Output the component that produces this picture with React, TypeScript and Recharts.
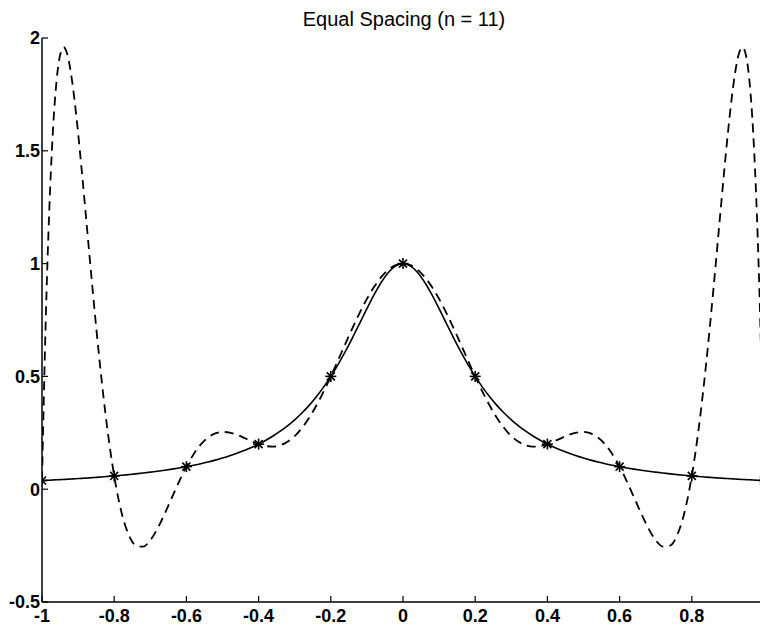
import { ComposedChart, Line, Scatter, XAxis, YAxis } from "recharts";

// sample positions along x (denser near the ends where the dashed curve swings)
const xValues = [
  -1, -0.99, -0.98, -0.97, -0.96, -0.95, -0.94, -0.93, -0.92, -0.91, -0.9,
  -0.89, -0.88, -0.87, -0.86, -0.85, -0.84, -0.83, -0.82, -0.81, -0.8,
  -0.78, -0.76, -0.74, -0.72, -0.7, -0.68, -0.66, -0.64, -0.62, -0.6,
  -0.58, -0.56, -0.54, -0.52, -0.5, -0.48, -0.46, -0.44, -0.42,
  -0.4, -0.38, -0.36, -0.34, -0.32, -0.3, -0.28, -0.26, -0.24, -0.22,
  -0.2, -0.18, -0.16, -0.14, -0.12, -0.1, -0.08, -0.06, -0.04, -0.02,
  0,
  0.02, 0.04, 0.06, 0.08, 0.1, 0.12, 0.14, 0.16, 0.18, 0.2,
  0.22, 0.24, 0.26, 0.28, 0.3, 0.32, 0.34, 0.36, 0.38, 0.4,
  0.42, 0.44, 0.46, 0.48, 0.5, 0.52, 0.54, 0.56, 0.58,
  0.6, 0.62, 0.64, 0.66, 0.68, 0.7, 0.72, 0.74, 0.76, 0.78,
  0.8, 0.81, 0.82, 0.83, 0.84, 0.85, 0.86, 0.87, 0.88, 0.89, 0.9,
  0.91, 0.92, 0.93, 0.94, 0.95, 0.96, 0.97, 0.98, 0.99, 1,
];

// dashed curve (polynomial through the 11 points)
const interpValues = [
  0.0385, 0.7261, 1.2303, 1.581, 1.8044, 1.9236, 1.959, 1.928, 1.8459, 1.7257, 1.5787,
  1.4143, 1.2402, 1.0631, 0.8881, 0.7195, 0.5604, 0.4135, 0.2802, 0.1618, 0.0588,
  -0.1007, -0.2013, -0.2496, -0.2546, -0.2262, -0.1743, -0.1083, -0.0363, 0.0349, 0.1,
  0.1554, 0.1987, 0.2292, 0.2472, 0.2538, 0.251, 0.2415, 0.2278, 0.2131,
  0.2, 0.1912, 0.1888, 0.1946, 0.2099, 0.2353, 0.271, 0.3165, 0.3708, 0.4326,
  0.5, 0.571, 0.6432, 0.7142, 0.7818, 0.8434, 0.8971, 0.9409, 0.9734, 0.9933,
  1,
  0.9933, 0.9734, 0.9409, 0.8971, 0.8434, 0.7818, 0.7142, 0.6432, 0.571, 0.5,
  0.4326, 0.3708, 0.3165, 0.271, 0.2353, 0.2099, 0.1946, 0.1888, 0.1912, 0.2,
  0.2131, 0.2278, 0.2415, 0.251, 0.2538, 0.2472, 0.2292, 0.1987, 0.1554,
  0.1, 0.0349, -0.0363, -0.1083, -0.1743, -0.2262, -0.2546, -0.2496, -0.2013, -0.1007,
  0.0588, 0.1618, 0.2802, 0.4135, 0.5604, 0.7195, 0.8881, 1.0631, 1.2402, 1.4143, 1.5787,
  1.7257, 1.8459, 1.928, 1.959, 1.9236, 1.8044, 1.581, 1.2303, 0.7261, 0.0385,
];

// solid curve
const rungeValues = [
  0.0385, 0.0392, 0.04, 0.0408, 0.0416, 0.0424, 0.0433, 0.0442, 0.0451, 0.0461, 0.0471,
  0.0481, 0.0491, 0.0502, 0.0513, 0.0525, 0.0536, 0.0549, 0.0561, 0.0575, 0.0588,
  0.0617, 0.0648, 0.0681, 0.0716, 0.0755, 0.0796, 0.0841, 0.089, 0.0943, 0.1,
  0.1063, 0.1131, 0.1206, 0.1289, 0.1379, 0.1479, 0.159, 0.1712, 0.1848,
  0.2, 0.2169, 0.2358, 0.2571, 0.2809, 0.3077, 0.3378, 0.3717, 0.4098, 0.4525,
  0.5, 0.5525, 0.6098, 0.6711, 0.7353, 0.8, 0.8621, 0.9174, 0.9615, 0.9901,
  1,
  0.9901, 0.9615, 0.9174, 0.8621, 0.8, 0.7353, 0.6711, 0.6098, 0.5525, 0.5,
  0.4525, 0.4098, 0.3717, 0.3378, 0.3077, 0.2809, 0.2571, 0.2358, 0.2169, 0.2,
  0.1848, 0.1712, 0.159, 0.1479, 0.1379, 0.1289, 0.1206, 0.1131, 0.1063,
  0.1, 0.0943, 0.089, 0.0841, 0.0796, 0.0755, 0.0716, 0.0681, 0.0648, 0.0617,
  0.0588, 0.0575, 0.0561, 0.0549, 0.0536, 0.0525, 0.0513, 0.0502, 0.0491, 0.0481, 0.0471,
  0.0461, 0.0451, 0.0442, 0.0433, 0.0424, 0.0416, 0.0408, 0.04, 0.0392, 0.0385,
];

// the 11 equally spaced points (asterisks)
const nodeX = [-1, -0.8, -0.6, -0.4, -0.2, 0, 0.2, 0.4, 0.6, 0.8, 1];
const nodeY = [0.0385, 0.0588, 0.1, 0.2, 0.5, 1, 0.5, 0.2, 0.1, 0.0588, 0.0385];

const xTicks = [-1, -0.8, -0.6, -0.4, -0.2, 0, 0.2, 0.4, 0.6, 0.8];
const yTicks = [-0.5, 0, 0.5, 1, 1.5, 2];

const rows = xValues.map((x, i) => ({
  x,
  interp: interpValues[i],
  runge: rungeValues[i],
}));
const nodes = nodeX.map((x, i) => ({ x, y: nodeY[i] }));

const FONT = '"Liberation Sans", Arial, Helvetica, sans-serif';
const tickStyle = { fontSize: 18, fontWeight: "bold", fill: "#000", fontFamily: FONT };
const axisLine = { stroke: "#000", strokeWidth: 1.5 };
const tickLine = { stroke: "#000", strokeWidth: 1.2 };

function Asterisk(props: any) {
  const { cx, cy } = props;
  if (cx == null || cy == null) return null;
  const r = 5.5;
  const d = 4;
  return (
    <g stroke="#000" strokeWidth={1.6}>
      <line x1={cx - r} y1={cy} x2={cx + r} y2={cy} />
      <line x1={cx} y1={cy - r} x2={cx} y2={cy + r} />
      <line x1={cx - d} y1={cy - d} x2={cx + d} y2={cy + d} />
      <line x1={cx - d} y1={cy + d} x2={cx + d} y2={cy - d} />
    </g>
  );
}

export default function App() {
  return (
    <div
      style={{
        position: "absolute",
        left: 0,
        top: 0,
        width: 760,
        height: 629,
        overflow: "hidden",
        background: "#fff",
        fontFamily: FONT,
      }}
    >
      <div
        style={{
          position: "absolute",
          left: 42,
          width: 724,
          top: 9,
          textAlign: "center",
          fontSize: 20,
          lineHeight: "20px",
          color: "#000",
        }}
      >
        Equal Spacing (n = 11)
      </div>
      <ComposedChart
        width={780}
        height={629}
        data={rows}
        margin={{ top: 38, right: 16, bottom: 0, left: 0 }}
      >
        <XAxis
          dataKey="x"
          type="number"
          domain={[-1, 1]}
          ticks={xTicks}
          allowDataOverflow
          height={27}
          axisLine={axisLine}
          tickLine={tickLine}
          tickSize={-6}
          tickMargin={13}
          tick={tickStyle}
          interval={0}
        />
        <XAxis
          xAxisId="top"
          orientation="top"
          dataKey="x"
          type="number"
          domain={[-1, 1]}
          ticks={xTicks}
          height={0}
          axisLine={axisLine}
          tickLine={tickLine}
          tickSize={-6}
          tickFormatter={() => ""}
          interval={0}
        />
        <YAxis
          type="number"
          domain={[-0.5, 2]}
          ticks={yTicks}
          allowDataOverflow
          width={42}
          axisLine={axisLine}
          tickLine={tickLine}
          tickSize={-6}
          tickMargin={8}
          tick={tickStyle}
          interval={0}
        />
        <Line
          type="monotone"
          dataKey="runge"
          stroke="#000"
          strokeWidth={1.6}
          dot={false}
          activeDot={false}
          isAnimationActive={false}
        />
        <Line
          type="monotone"
          dataKey="interp"
          stroke="#000"
          strokeWidth={1.8}
          strokeDasharray="9 6"
          dot={false}
          activeDot={false}
          isAnimationActive={false}
        />
        <Scatter
          data={nodes}
          dataKey="y"
          shape={<Asterisk />}
          isAnimationActive={false}
        />
      </ComposedChart>
    </div>
  );
}
